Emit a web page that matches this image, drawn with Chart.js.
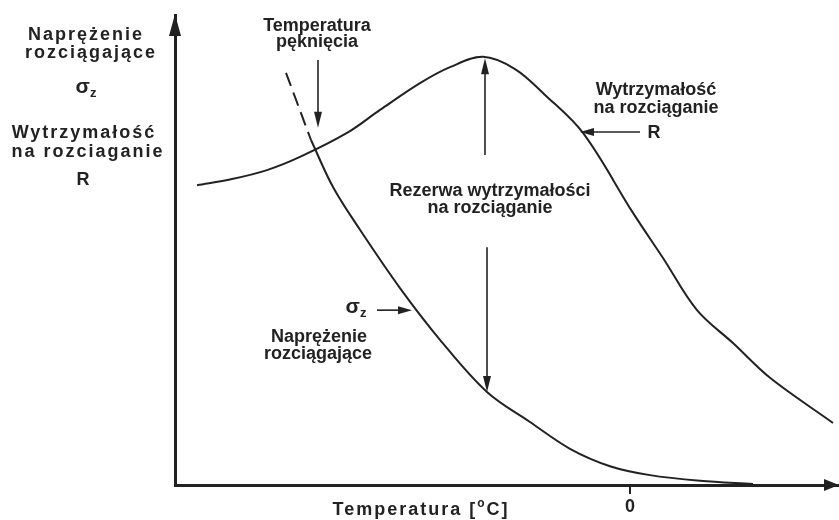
<!DOCTYPE html>
<html><head><meta charset="utf-8">
<script src="https://cdn.jsdelivr.net/npm/chart.js@4/dist/chart.umd.min.js"></script>
<style>html,body{margin:0;padding:0;background:#fff}canvas{display:block}</style>
</head><body>
<canvas id="c" width="839" height="520"></canvas>
<script>
// ---- data (schematic units: x = temperature, y = stress/strength) ----
const strengthX = [-43.3,-39.8,-36.3,-33.0,-28.3,-25.0,-21.0,-18.0,-14.7,-11.5,-8.5,-4.7,0.3,3.3,6.7,10.3,14.0,20.3];
const strengthY = [63.8,65.1,67.0,69.8,74.9,79.8,85.5,88.9,91.1,88.5,83.0,74.9,57.9,48.3,37.2,30.2,22.8,13.2];
const stressX = [-31.9,-29.7,-27.0,-23.0,-19.0,-14.3,-10.0,-6.0,-2.0,2.0,7.0,12.3];
const stressY = [73.4,63.4,54.3,41.9,30.9,19.8,13.4,7.7,4.0,2.1,0.9,0.2];
const stressDashX = [-34.4,-31.9];
const stressDashY = [87.7,73.4];
const xTickValues = [0];
const xTickLabels = ['0'];
const xMin = -45.5, xMax = 20.9, yMin = 0, yMax = 100;

const INK = '#222';
const FONT = '"Liberation Sans", Arial, Helvetica, sans-serif';

function pts(xs, ys){ return xs.map((x,i)=>({x:x, y:ys[i]})); }

function drawRich(ctx, x, y, parts, align, spacing){
  ctx.save();
  ctx.letterSpacing = (spacing||0) + 'px';
  ctx.textBaseline = 'alphabetic';
  ctx.textAlign = 'left';
  ctx.fillStyle = INK;
  let w = 0; const ws = [];
  parts.forEach(p=>{ ctx.font = 'bold ' + p.size + 'px ' + FONT; const m = ctx.measureText(p.t).width; ws.push(m); w += m; });
  let cx = align === 'center' ? x - w/2 : (align === 'right' ? x - w : x);
  parts.forEach((p,i)=>{ ctx.font = 'bold ' + p.size + 'px ' + FONT; ctx.fillText(p.t, cx, y + (p.dy||0)); cx += ws[i]; });
  ctx.restore();
}
function txt(ctx, s, x, y, size, spacing){ drawRich(ctx, x, y, [{t:s, size:size||18}], 'center', spacing); }
function sigmaZ(ctx, x, y){ drawRich(ctx, x, y, [{t:'σ', size:21},{t:'z', size:13, dy:4}], 'center', 0); }

function arrow(ctx, x1, y1, x2, y2, len, half){
  len = len || 12; half = half || 4;
  const a = Math.atan2(y2-y1, x2-x1);
  ctx.save();
  ctx.strokeStyle = INK; ctx.fillStyle = INK; ctx.lineWidth = 1.6;
  ctx.beginPath(); ctx.moveTo(x1,y1); ctx.lineTo(x2 - Math.cos(a)*len*0.6, y2 - Math.sin(a)*len*0.6); ctx.stroke();
  ctx.beginPath();
  ctx.moveTo(x2, y2);
  ctx.lineTo(x2 - Math.cos(a)*len - Math.sin(a)*half, y2 - Math.sin(a)*len + Math.cos(a)*half);
  ctx.lineTo(x2 - Math.cos(a)*len + Math.sin(a)*half, y2 - Math.sin(a)*len - Math.cos(a)*half);
  ctx.closePath(); ctx.fill();
  ctx.restore();
}

const annotations = {
  id: 'annotations',
  afterDraw(chart){
    const ctx = chart.ctx, xs = chart.scales.x, ys = chart.scales.y, ca = chart.chartArea;
    const X = v => xs.getPixelForValue(v), Y = v => ys.getPixelForValue(v);
    // axis arrowheads
    ctx.save(); ctx.fillStyle = INK;
    ctx.beginPath(); ctx.moveTo(ca.left, ca.top - 1); ctx.lineTo(ca.left - 6, ca.top + 21); ctx.lineTo(ca.left + 6, ca.top + 21); ctx.closePath(); ctx.fill();
    ctx.beginPath(); ctx.moveTo(ca.right, ca.bottom); ctx.lineTo(ca.right - 15, ca.bottom - 6); ctx.lineTo(ca.right - 15, ca.bottom + 6); ctx.closePath(); ctx.fill();
    ctx.restore();

    // y-axis label block (left of the axis)
    const lx = ca.left - 89;
    txt(ctx, 'Naprężenie', lx, 40, 18, 2);
    txt(ctx, 'rozciągające', lx + 5, 58, 18, 2);
    sigmaZ(ctx, lx, 93);
    txt(ctx, 'Wytrzymałość', lx - 2, 138, 18, 2);
    txt(ctx, 'na rozciaganie', lx + 2, 157, 18, 2);
    txt(ctx, 'R', lx - 3, 185, 18, 0);

    // x-axis title
    drawRich(ctx, X(-20.9), ca.bottom + 30, [{t:'Temperatura [', size:18},{t:'o', size:12, dy:-8},{t:'C]', size:18}], 'center', 2);

    // crack temperature
    txt(ctx, 'Temperatura', X(-31.3), Y(96.6), 18);
    txt(ctx, 'pęknięcia', X(-31.3), Y(93.2), 18);
    arrow(ctx, X(-31.2), Y(90.4), X(-31.2), Y(76.0), 16, 4);

    // reserve of tensile strength
    txt(ctx, 'Rezerwa wytrzymałości', X(-14.0), Y(61.5), 18);
    txt(ctx, 'na rozciąganie', X(-14.0), Y(57.9), 18);
    arrow(ctx, X(-14.5), Y(70.2), X(-14.5), Y(90.8), 16, 4);
    arrow(ctx, X(-14.3), Y(50.6), X(-14.3), Y(19.8), 16, 4);

    // strength label
    txt(ctx, 'Wytrzymałość', X(2.6), Y(83.0), 18);
    txt(ctx, 'na rozciąganie', X(2.6), Y(79.1), 18);
    txt(ctx, 'R', X(2.4), Y(73.8), 18);
    arrow(ctx, X(1.0), Y(75.1), X(-5.0), Y(75.1), 14, 4);

    // stress label
    sigmaZ(ctx, X(-27.4), Y(36.6));
    txt(ctx, 'Naprężenie', X(-31.1), Y(30.4), 18);
    txt(ctx, 'rozciągające', X(-31.2), Y(26.8), 18);
    arrow(ctx, X(-25.3), Y(37.2), X(-21.8), Y(37.2), 14, 4);
  }
};

new Chart(document.getElementById('c'), {
  type: 'scatter',
  data: {
    datasets: [
      { data: pts(strengthX, strengthY), showLine: true, borderColor: INK, borderWidth: 2, pointRadius: 0, tension: 0.35, clip: false },
      { data: pts(stressX, stressY), showLine: true, borderColor: INK, borderWidth: 2, pointRadius: 0, tension: 0.35, clip: false },
      { data: pts(stressDashX, stressDashY), showLine: true, borderColor: INK, borderWidth: 2, borderDash: [14,7], pointRadius: 0, clip: false }
    ]
  },
  options: {
    responsive: false, animation: false, devicePixelRatio: 1,
    layout: { padding: { top: 15, right: 0, left: 0, bottom: 0 } },
    plugins: { legend: { display: false }, tooltip: { enabled: false } },
    scales: {
      x: {
        type: 'linear', min: xMin, max: xMax,
        afterBuildTicks: s => { s.ticks = xTickValues.map(v => ({ value: v })); },
        afterFit: s => { s.height = 35; },
        ticks: { color: INK, font: { family: FONT, size: 18, weight: 'bold' }, padding: 2, maxRotation: 0,
                 callback: (v, i) => xTickLabels[i] },
        grid: { display: true, drawOnChartArea: false, drawTicks: true, tickLength: 9, color: INK, lineWidth: 2 },
        border: { display: true, color: INK, width: 3 }
      },
      y: {
        type: 'linear', min: yMin, max: yMax,
        afterFit: s => { s.width = 175; },
        ticks: { display: false },
        grid: { display: false },
        border: { display: true, color: INK, width: 3 }
      }
    }
  },
  plugins: [annotations]
});
</script>
</body></html>
